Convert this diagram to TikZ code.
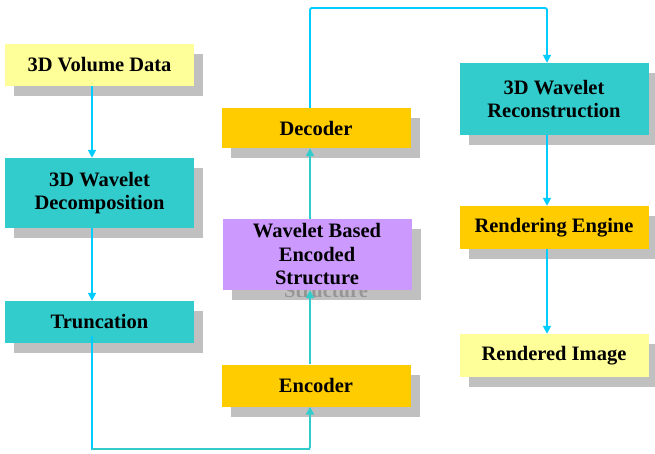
\documentclass[tikz,border=0pt]{standalone}
\usepackage{fontspec}
\setmainfont{Liberation Serif}
\usetikzlibrary{arrows.meta,shadows}
\definecolor{paleyellow}{RGB}{255,255,153}
\definecolor{teal}{RGB}{51,204,204}
\definecolor{amber}{RGB}{255,204,0}
\definecolor{lilac}{RGB}{204,153,255}
\definecolor{shadowgray}{RGB}{192,192,192}
\definecolor{skyline}{RGB}{0,204,255}
\definecolor{tealline}{RGB}{51,204,204}
\definecolor{ghosttext}{RGB}{150,150,150}
\tikzset{
  boxfont/.style={font=\fontsize{20.5}{23.5}\selectfont\bfseries},
  box/.style={rectangle, draw=none, minimum width=189pt, inner sep=0pt,
    align=center, boxfont,
    drop shadow={shadow xshift=9pt, shadow yshift=-10pt, fill=shadowgray, opacity=1}},
  flow/.style={draw=skyline, line width=1.8pt, -{Triangle[length=8pt,width=8pt]}},
  flowup/.style={draw=tealline, line width=1.8pt, -{Triangle[length=8pt,width=8pt]}},
}
\begin{document}
\begin{tikzpicture}[x=1pt,y=-1pt]
\useasboundingbox (0,0) rectangle (655,454);
\fill[white] (0,0) rectangle (655,454);

% left column
\node[box, fill=paleyellow, minimum height=42pt] (vol) at (99.5,65) {3D Volume Data};
\node[box, fill=teal, minimum height=70pt] (dec) at (99.5,193) {3D Wavelet\\Decomposition};
\node[box, fill=teal, minimum height=42pt] (trunc) at (99.5,322) {Truncation};

% middle column
\node[box, fill=amber, minimum height=42pt] (enc) at (316,385.5) {Encoder};
\node[box, fill=lilac, minimum height=71pt] (struct) at (317,254.5) {Wavelet Based\\Encoded\\Structure};
% shadow of the last text line, peeking out under the box
\begin{scope}
  \clip (struct.south west) rectangle ([xshift=9pt,yshift=-10pt]struct.south east);
  \node[boxfont, text=ghosttext, anchor=base] (ghost) at (326,297) {Structure};
\end{scope}
\node[box, fill=amber, minimum height=40pt] (decoder) at (316,128) {Decoder};

% right column
\node[box, fill=teal, minimum height=72pt] (recon) at (554,99) {3D Wavelet\\Reconstruction};
\node[box, fill=amber, minimum height=43pt] (render) at (554,227.5) {Rendering Engine};
\node[box, fill=paleyellow, minimum height=43pt] (image) at (554,355.5) {Rendered Image};

% connectors
\coordinate (lowleft) at (92,449);
\coordinate (lowright) at (310,449);
\coordinate (topleft) at (310,8);
\coordinate (topright) at (547,8);

\draw[flow] (vol.south -| 92,0) -- (dec.north -| 92,0);
\draw[flow] (dec.south -| 92,0) -- (trunc.north -| 92,0);
\draw[flow, -] ([yshift=7pt]trunc.south -| 92,0) |- (lowright);
\draw[flowup, rounded corners=2pt] (lowleft) -| (enc.south -| 310,0);
\draw[flowup] (enc.north -| 310,0) -- (struct.south -| 310,0);
\draw[flowup] (struct.north -| 310,0) -- (decoder.south -| 310,0);
\draw[flow, rounded corners=2pt] (decoder.north -| 310,0) -- (topleft) -- (topright) -- (recon.north -| 547,0);
\draw[flow] (recon.south -| 547,0) -- (render.north -| 547,0);
\draw[flow] (render.south -| 547,0) -- (image.north -| 547,0);
\end{tikzpicture}
\end{document}
